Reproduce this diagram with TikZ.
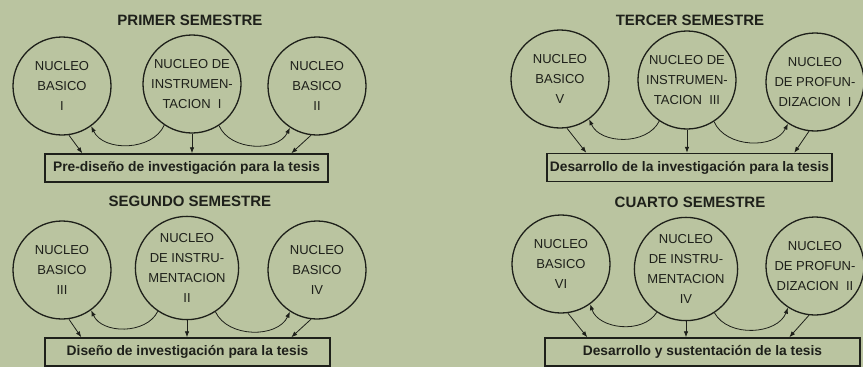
\documentclass[tikz,border=0pt]{standalone}
\usepackage{fontspec}
\setmainfont{Liberation Sans}
\usepackage{xcolor}
\usetikzlibrary{arrows.meta}
\usetikzlibrary{calc}
\usetikzlibrary{positioning}
\definecolor{papel}{RGB}{186,196,160}
\definecolor{tinta}{RGB}{30,32,26}
\tikzstyle{nucleo} = [draw=tinta,circle,line width=1.3pt,minimum size=98pt,inner sep=0pt,align=center,text=tinta,font=\fontsize{13}{20}\selectfont]
\tikzstyle{tesis} = [draw=tinta,rectangle,line width=1.4pt,minimum height=28pt,inner sep=0pt,text=tinta,font=\fontsize{13.8}{15}\selectfont\bfseries]
\tikzstyle{semestre} = [text=tinta,font=\fontsize{15}{16}\selectfont\bfseries]
\tikzstyle{flecha} = [draw=tinta,line width=0.8pt,-{Latex[length=6pt,width=4.5pt]}]

\begin{document}
\begin{tikzpicture}[x=1pt,y=-1pt]

    \fill[papel] (0,0) rectangle (863,367); % the paper
    \useasboundingbox (0,0) rectangle (863,367);

    % PRIMER SEMESTRE (top left)
    \node[semestre] (SA) at (190,20) {PRIMER SEMESTRE};
    \node[nucleo] (A1) at (62,86)  {NUCLEO\\BASICO\\I};
    \node[nucleo] (A2) at (192,84) {NUCLEO DE\\INSTRUMEN-\\TACION\ \ I};
    \node[nucleo] (A3) at (317,86) {NUCLEO\\BASICO\\II};
    \node[tesis,minimum width=283pt] (TA) at (186.5,168) {Pre-diseño de investigación para la tesis};

    % SEGUNDO SEMESTRE (bottom left)
    \node[semestre] (SB) at (190,201) {SEGUNDO SEMESTRE};
    \node[nucleo] (B1) at (62,270)  {NUCLEO\\BASICO\\III};
    \node[nucleo] (B2) at (187,268) {NUCLEO\\DE INSTRU-\\MENTACION\\II};
    \node[nucleo] (B3) at (317,270) {NUCLEO\\BASICO\\IV};
    \node[tesis,minimum width=285pt] (TB) at (187.5,352) {Diseño de investigación para la tesis};

    % TERCER SEMESTRE (top right)
    \node[semestre] (SC) at (690,20) {TERCER SEMESTRE};
    \node[nucleo] (C1) at (560,79) {NUCLEO\\BASICO\\V};
    \node[nucleo] (C2) at (687,80) {NUCLEO DE\\INSTRUMEN-\\TACION\ \ III};
    \node[nucleo] (C3) at (815,82) {NUCLEO\\DE PROFUN-\\DIZACION\ \ I};
    \node[tesis,minimum width=285pt] (TC) at (689.5,167.5) {Desarrollo de la investigación para la tesis};

    % CUARTO SEMESTRE (bottom right)
    \node[semestre] (SD) at (690,202) {CUARTO SEMESTRE};
    \node[nucleo] (D1) at (561,264) {NUCLEO\\BASICO\\VI};
    \node[nucleo] (D2) at (686,269) {NUCLEO\\DE INSTRU-\\MENTACION\\IV};
    \node[nucleo] (D3) at (815,266) {NUCLEO\\DE PROFUN-\\DIZACION\ \ II};
    \node[tesis,minimum width=315pt] (TD) at (702.5,352) {Desarrollo y sustentación de la tesis};

    % arrows: three nucleos down to the tesis box, and the two loops
    \foreach \P/\a/\b in {A/38/247,B/37/247,C/40/248,D/43/245}{%
        \draw[flecha] (\P1.-82) -- ([xshift=\a pt]T\P.north west);
        \draw[flecha] (\P2.south) -- (\P2.south |- T\P.north);
        \draw[flecha] (\P3.-97) -- ([xshift=\b pt]T\P.north west);
        \draw[flecha] (\P2.236) to[bend left=65] (\P1.-54);
        \draw[flecha] (\P2.-57) to[bend right=65] (\P3.237);
    }

\end{tikzpicture}
\end{document}
